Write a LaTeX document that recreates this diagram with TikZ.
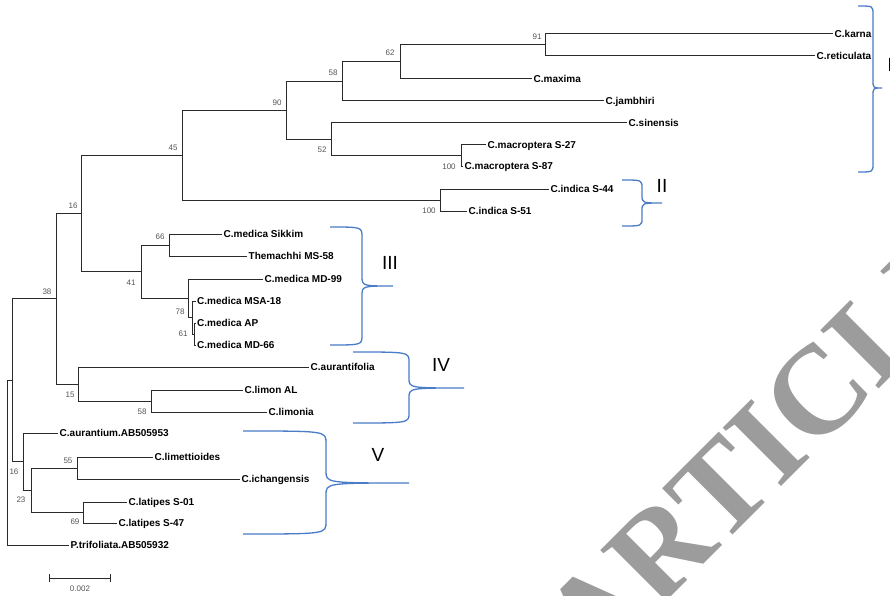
\documentclass[tikz,border=0pt]{standalone}
\usepackage{fontspec}
\setmainfont{Liberation Sans}
\newfontfamily\watermarkfont{Liberation Serif}
\definecolor{bracecolor}{HTML}{4A7CC8}
\definecolor{branchcolor}{HTML}{2A2A2A}
\definecolor{bootcolor}{HTML}{555555}
\definecolor{watermarkcolor}{HTML}{9C9C9C}

\begin{document}
\begin{tikzpicture}[x=1pt, y=-1pt,
    taxon/.style={
        anchor=west,
        inner sep=1.5pt,
        text height=7.2pt,
        text depth=0pt,
        font=\fontsize{10}{12}\selectfont\bfseries
    },
    boot/.style={inner sep=0pt, text=bootcolor, font=\fontsize{8}{9}\selectfont},
    branch/.style={draw=branchcolor, line width=1pt},
    clade/.style={inner sep=0pt, font=\fontsize{19}{21}\selectfont},
    cladebrace/.style={draw=bracecolor, line width=1.3pt}
]
    \clip (0,0) rectangle (890,596);
    \fill[white] (0,0) rectangle (890,596);

    \node (watermark) [rotate=45, inner sep=0pt, text=watermarkcolor,
        font=\watermarkfont\fontsize{126}{126}\selectfont\bfseries] at (766,444)
    {
        ARTICLE
    };

    \coordinate (n_root) at (7,462.5);
    \coordinate (n_a) at (12,380);
    \coordinate (n_38) at (56,298.5);
    \coordinate (n_16) at (81,213);
    \coordinate (n_45) at (182,155.5);
    \coordinate (n_90) at (286,110.5);
    \coordinate (n_58) at (342,81.5);
    \coordinate (n_62) at (400,62);
    \coordinate (n_91) at (545,45);
    \coordinate (n_52) at (331,140);
    \coordinate (n_100a) at (461,155.5);
    \coordinate (n_100b) at (440,200);
    \coordinate (n_41) at (141,271.5);
    \coordinate (n_66) at (169,245);
    \coordinate (n_78) at (188,298);
    \coordinate (n_61) at (192,317.5);
    \coordinate (n_ap) at (194,334);
    \coordinate (n_15) at (78,384);
    \coordinate (n_58b) at (151,401);
    \coordinate (n_16b) at (23,461.5);
    \coordinate (n_23) at (31,490);
    \coordinate (n_55) at (77,468);
    \coordinate (n_69) at (83,512.5);

    \node (c_karna) [taxon] at (833,34) {C.karna};
    \node (c_reticulata) [taxon] at (815,56) {C.reticulata};
    \node (c_maxima) [taxon] at (532,79) {C.maxima};
    \node (c_jambhiri) [taxon] at (604,101) {C.jambhiri};
    \node (c_sinensis) [taxon] at (627,123) {C.sinensis};
    \node (c_macroptera_s27) [taxon] at (486,145) {C.macroptera S-27};
    \node (c_macroptera_s87) [taxon] at (463,166) {C.macroptera S-87};
    \node (c_indica_s44) [taxon] at (549,189) {C.indica S-44};
    \node (c_indica_s51) [taxon] at (467,211) {C.indica S-51};
    \node (c_medica_sikkim) [taxon] at (222,234) {C.medica Sikkim};
    \node (themachhi_ms58) [taxon] at (247,256) {Themachhi MS-58};
    \node (c_medica_md99) [taxon] at (263,279) {C.medica MD-99};
    \node (c_medica_msa18) [taxon] at (195.5,301) {C.medica MSA-18};
    \node (c_medica_ap) [taxon] at (195.5,323) {C.medica AP};
    \node (c_medica_md66) [taxon] at (195.5,345) {C.medica MD-66};
    \node (c_aurantifolia) [taxon] at (309,367) {C.aurantifolia};
    \node (c_limon_al) [taxon] at (243,390) {C.limon AL};
    \node (c_limonia) [taxon] at (267,412) {C.limonia};
    \node (c_aurantium) [taxon] at (58,433) {C.aurantium.AB505953};
    \node (c_limettioides) [taxon] at (153,457) {C.limettioides};
    \node (c_ichangensis) [taxon] at (240,479) {C.ichangensis};
    \node (c_latipes_s01) [taxon] at (127,502) {C.latipes S-01};
    \node (c_latipes_s47) [taxon] at (117,523) {C.latipes S-47};
    \node (p_trifoliata) [taxon] at (69,545) {P.trifoliata.AB505932};

    \draw[branch] (n_root) |- (n_a);
    \draw[branch] (n_root) |- (p_trifoliata.west);
    \draw[branch] (n_a) |- (n_38);
    \draw[branch] (n_a) |- (n_16b);
    \draw[branch] (n_38) |- (n_16);
    \draw[branch] (n_38) |- (n_15);
    \draw[branch] (n_16) |- (n_45);
    \draw[branch] (n_16) |- (n_41);
    \draw[branch] (n_45) |- (n_90);
    \draw[branch] (n_45) |- (n_100b);
    \draw[branch] (n_90) |- (n_58);
    \draw[branch] (n_90) |- (n_52);
    \draw[branch] (n_58) |- (n_62);
    \draw[branch] (n_58) |- (c_jambhiri.west);
    \draw[branch] (n_62) |- (n_91);
    \draw[branch] (n_62) |- (c_maxima.west);
    \draw[branch] (n_91) |- (c_karna.west);
    \draw[branch] (n_91) |- (c_reticulata.west);
    \draw[branch] (n_52) |- (c_sinensis.west);
    \draw[branch] (n_52) |- (n_100a);
    \draw[branch] (n_100a) |- (c_macroptera_s27.west);
    \draw[branch] (n_100a) |- (c_macroptera_s87.west);
    \draw[branch] (n_100b) |- (c_indica_s44.west);
    \draw[branch] (n_100b) |- (c_indica_s51.west);
    \draw[branch] (n_41) |- (n_66);
    \draw[branch] (n_41) |- (n_78);
    \draw[branch] (n_66) |- (c_medica_sikkim.west);
    \draw[branch] (n_66) |- (themachhi_ms58.west);
    \draw[branch] (n_78) |- (c_medica_md99.west);
    \draw[branch] (n_78) |- (n_61);
    \draw[branch] (n_61) |- (c_medica_msa18.west);
    \draw[branch] (n_61) |- (n_ap);
    \draw[branch] (n_ap) |- (c_medica_ap.west);
    \draw[branch] (n_ap) |- (c_medica_md66.west);
    \draw[branch] (n_15) |- (c_aurantifolia.west);
    \draw[branch] (n_15) |- (n_58b);
    \draw[branch] (n_58b) |- (c_limon_al.west);
    \draw[branch] (n_58b) |- (c_limonia.west);
    \draw[branch] (n_16b) |- (c_aurantium.west);
    \draw[branch] (n_16b) |- (n_23);
    \draw[branch] (n_23) |- (n_55);
    \draw[branch] (n_23) |- (n_69);
    \draw[branch] (n_55) |- (c_limettioides.west);
    \draw[branch] (n_55) |- (c_ichangensis.west);
    \draw[branch] (n_69) |- (c_latipes_s01.west);
    \draw[branch] (n_69) |- (c_latipes_s47.west);

    \node (b_91) [boot] at (537,37) {91};
    \node (b_62) [boot] at (390,53) {62};
    \node (b_58) [boot] at (333,73) {58};
    \node (b_90) [boot] at (277,103) {90};
    \node (b_45) [boot] at (173,148) {45};
    \node (b_52) [boot] at (322,150) {52};
    \node (b_100a) [boot] at (449,167) {100};
    \node (b_100b) [boot] at (429,211) {100};
    \node (b_16) [boot] at (73,206) {16};
    \node (b_66) [boot] at (160,237) {66};
    \node (b_41) [boot] at (131,283) {41};
    \node (b_78) [boot] at (180,312) {78};
    \node (b_61) [boot] at (183,334) {61};
    \node (b_38) [boot] at (47,292) {38};
    \node (b_15) [boot] at (70,395) {15};
    \node (b_58b) [boot] at (142,412) {58};
    \node (b_55) [boot] at (68,461) {55};
    \node (b_16b) [boot] at (14,472) {16};
    \node (b_23) [boot] at (21,500) {23};
    \node (b_69) [boot] at (75,522) {69};

    \coordinate (bar_left) at (49,578);
    \coordinate (bar_right) at (111,578);
    \draw[branch, |-|] (bar_left) -- (bar_right);
    \node (bar_label) [boot] at (80,589) {0.002};

    \draw[cladebrace] (858,6) .. controls (873,6) .. (873,14) -- (873,80)
        .. controls (873,88) .. (882,88) .. controls (873,88) .. (873,96)
        -- (873,164) .. controls (873,172) .. (858,172);
    \draw[cladebrace] (622,180) .. controls (642,180) .. (642,188) -- (642,195)
        .. controls (642,203) .. (662,203) .. controls (642,203) .. (642,211)
        -- (642,218) .. controls (642,226) .. (622,226);
    \draw[cladebrace] (330,227) .. controls (362,227) .. (362,237) -- (362,276)
        .. controls (362,286) .. (393,286) .. controls (362,286) .. (362,296)
        -- (362,335) .. controls (362,345) .. (330,345);
    \draw[cladebrace] (353,352) .. controls (409,352) .. (409,362) -- (409,378)
        .. controls (409,388) .. (464,388) .. controls (409,388) .. (409,398)
        -- (409,413) .. controls (409,423) .. (353,423);
    \draw[cladebrace] (243,431) .. controls (326,431) .. (326,443) -- (326,471)
        .. controls (326,483) .. (409,483) .. controls (326,483) .. (326,495)
        -- (326,522) .. controls (326,534) .. (243,534);

    \node (clade_i) [clade] at (890,65) {I};
    \node (clade_ii) [clade] at (662,186) {II};
    \node (clade_iii) [clade] at (390,263) {III};
    \node (clade_iv) [clade] at (441,365) {IV};
    \node (clade_v) [clade] at (378,455) {V};
\end{tikzpicture}
\end{document}
